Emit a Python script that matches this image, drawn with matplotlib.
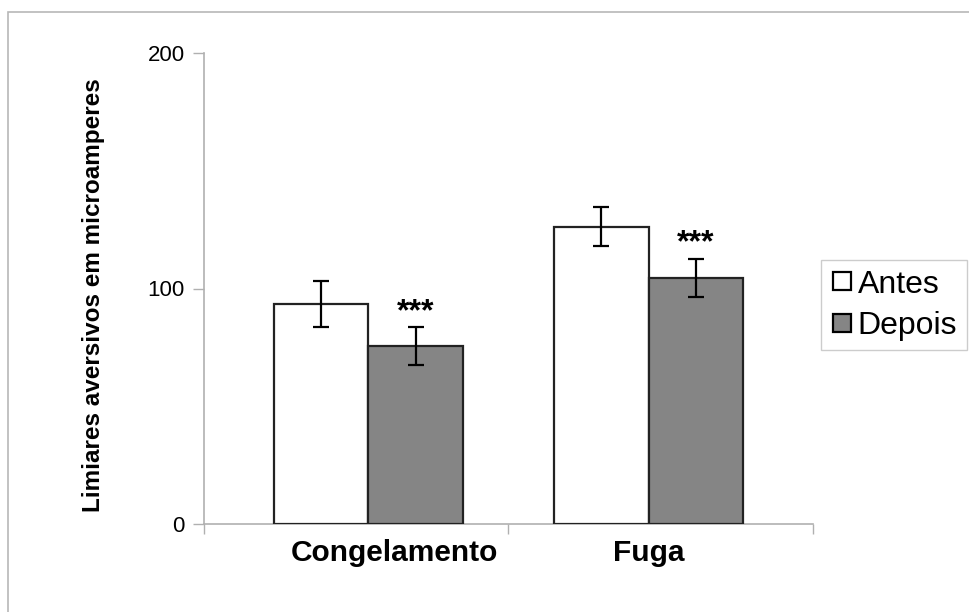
import matplotlib.pyplot as plt
from matplotlib.lines import Line2D
from matplotlib.patches import Rectangle
import numpy as np

plt.rcParams['font.family'] = ['Liberation Sans', 'DejaVu Sans']

categories = ["Congelamento", "Fuga"]
antes = [93.5, 126.2]
antes_err = [9.8, 8.3]
depois = [75.5, 104.5]
depois_err = [8.0, 8.2]
significance = ["***", "***"]
y_ticks = [0, 100, 200]


def main():
    fig = plt.figure(figsize=(9.7, 6.12), dpi=100)
    ax = fig.add_axes([204 / 970, 88 / 612, 609 / 970, 471 / 612])

    # outer chart frame (only top/left visible in the reference)
    fig.patches.append(Rectangle((8 / 970, -0.1), 1.2, 1.1 - 12 / 612, transform=fig.transFigure,
                                 fill=False, edgecolor='#b8b8b8', linewidth=1.2))

    centers = np.array([0.54, 1.46])
    width = 0.31
    err_style = dict(ecolor='black', elinewidth=1.6, capsize=6, capthick=1.6)
    ax.bar(centers - width / 2, antes, width, yerr=antes_err, color='white',
           edgecolor='#222222', linewidth=1.6, error_kw=err_style, zorder=3)
    ax.bar(centers + width / 2, depois, width, yerr=depois_err, color='#858585',
           edgecolor='#222222', linewidth=1.6, error_kw=err_style, zorder=3)

    for c, v, e, s in zip(centers, depois, depois_err, significance):
        ax.annotate(s, (c + width / 2, v + e), xytext=(0, 0), textcoords='offset points',
                    ha='center', va='bottom', fontsize=23, fontweight='bold')

    ax.set_xlim(0, 2)
    ax.set_ylim(0, 200)
    ax.set_yticks(y_ticks)
    ax.set_yticklabels([str(t) for t in y_ticks], fontsize=16)
    ax.tick_params(axis='y', length=8, width=1, color='#b0b0b0', pad=6)

    ax.set_xticks([0.624, 1.461])
    ax.set_xticklabels(categories, fontsize=21.5, fontweight='bold')
    ax.set_xticks([0, 1, 2], minor=True)
    ax.tick_params(axis='x', which='major', length=0, pad=11)
    ax.tick_params(axis='x', which='minor', length=7, width=1, color='#b0b0b0')

    for side in ['top', 'right']:
        ax.spines[side].set_visible(False)
    for side in ['left', 'bottom']:
        ax.spines[side].set_color('#b0b0b0')
        ax.spines[side].set_linewidth(1.2)

    ax.set_ylabel('Limiares aversivos em microamperes', fontsize=17.5, fontweight='bold')
    ax.yaxis.set_label_coords(-99 / 609, 0.485)

    handles = [Line2D([], [], marker='s', linestyle='none', markersize=13, markerfacecolor='white',
                      markeredgecolor='black', markeredgewidth=1.6),
               Line2D([], [], marker='s', linestyle='none', markersize=13, markerfacecolor='#858585',
                      markeredgecolor='black', markeredgewidth=1.6)]
    leg = fig.legend(handles, ['Antes', 'Depois'], loc='upper left',
                     bbox_to_anchor=(821 / 970, 1 - 260 / 612), fontsize=23, frameon=True,
                     fancybox=False, edgecolor='#c0c0c0', handlelength=0.7, handletextpad=0.15,
                     labelspacing=0.35, borderpad=0.3, borderaxespad=0)
    leg.get_frame().set_linewidth(1.0)

    fig.savefig('out.png', dpi=100)


if __name__ == "__main__":
    main()
